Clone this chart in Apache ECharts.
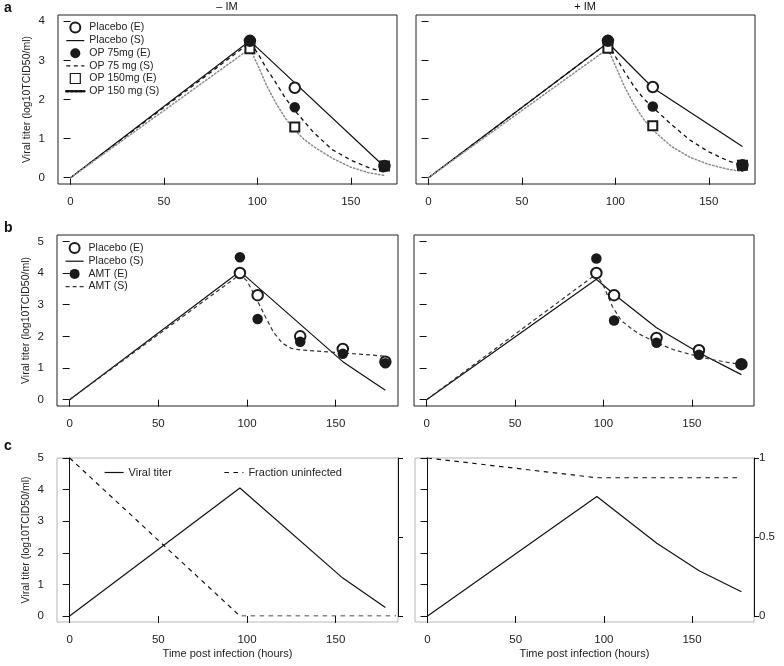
<!DOCTYPE html>
<html><head><meta charset="utf-8">
<script src="https://cdn.jsdelivr.net/npm/echarts@6/dist/echarts.min.js"></script>
<style>html,body{margin:0;padding:0;background:#fff}#c{width:784px;height:666px}</style>
</head><body><div id="c"></div>
<script>
// ---------------- data ----------------
const xTicks = [0, 50, 100, 150];
const yTicksA = [0, 1, 2, 3, 4];
const yTicksB = [0, 1, 2, 3, 4, 5];
const fracTicks = [0, 0.5, 1];

// panel a: experimental points
const aTimesE = [96, 120, 168];
const aMinusPlaceboE = [3.5, 2.3, 0.3];
const aMinusOP75E = [3.5, 1.8, 0.3];
const aMinusOP150E = [3.3, 1.3, 0.3];
const aPlusPlaceboE = [3.5, 2.32, 0.32];
const aPlusOP75E = [3.52, 1.82, 0.32];
const aPlusOP150E = [3.31, 1.33, 0.32];
// panel a: simulations (- IM)
const aMinusPlaceboS_t = [0, 96, 168];
const aMinusPlaceboS = [0, 3.5, 0.28];
const aMinusOP75S_t = [0, 96, 100, 105, 110, 115, 120, 130, 140, 150, 160, 168];
const aMinusOP75S = [0, 3.45, 3.2, 2.78, 2.42, 2.03, 1.72, 1.16, 0.72, 0.45, 0.25, 0.14];
const aMinusOP150S_t = [0, 96, 100, 105, 110, 115, 120, 125, 130, 140, 150, 160, 168];
const aMinusOP150S = [0, 3.3, 2.9, 2.35, 1.9, 1.52, 1.22, 0.98, 0.8, 0.5, 0.27, 0.12, 0.06];
// panel a: simulations (+ IM)
const aPlusPlaceboS_t = [0, 96, 120, 168];
const aPlusPlaceboS = [0, 3.45, 2.3, 0.8];
const aPlusOP75S_t = [0, 96, 100, 105, 110, 115, 120, 130, 140, 150, 160, 168];
const aPlusOP75S = [0, 3.45, 3.1, 2.7, 2.33, 2.03, 1.8, 1.36, 0.96, 0.66, 0.44, 0.3];
const aPlusOP150S_t = [0, 96, 100, 105, 110, 115, 120, 130, 140, 150, 160, 168];
const aPlusOP150S = [0, 3.3, 2.86, 2.32, 1.87, 1.5, 1.22, 0.8, 0.52, 0.34, 0.22, 0.16];

// panel b: experimental points
const bTimesE = [96, 106, 130, 154, 178];
const bMinusPlaceboE = [4.0, 3.3, 2.0, 1.6, 1.2];
const bMinusAMTE = [4.5, 2.55, 1.83, 1.45, 1.15];
const bPlusPlaceboE = [4.0, 3.3, 1.95, 1.56, 1.12];
const bPlusAMTE = [4.46, 2.5, 1.8, 1.42, 1.12];
// panel b: simulations
const bMinusPlaceboS_t = [0, 96, 154, 178];
const bMinusPlaceboS = [0, 4.05, 1.2, 0.3];
const bMinusAMTS_t = [0, 96, 100, 105, 110, 115, 120, 125, 130, 140, 150, 160, 170, 178];
const bMinusAMTS = [0, 3.95, 3.75, 3.22, 2.66, 2.12, 1.78, 1.62, 1.57, 1.53, 1.49, 1.45, 1.41, 1.37];
const bPlusPlaceboS_t = [0, 96, 106, 130, 154, 178];
const bPlusPlaceboS = [0, 3.8, 3.33, 2.27, 1.48, 0.79];
const bPlusAMTS_t = [0, 96, 100, 105, 110, 115, 120, 130, 140, 150, 160, 170, 178];
const bPlusAMTS = [0, 3.97, 3.6, 2.95, 2.5, 2.28, 2.08, 1.8, 1.57, 1.42, 1.28, 1.18, 1.11];

// panel c
const cMinusTiter_t = [0, 96, 154, 178];
const cMinusTiter = [0, 4.05, 1.2, 0.27];
const cMinusFrac_t = [0, 96, 184];
const cMinusFrac = [1, 0, 0];
const cPlusTiter_t = [0, 96, 130, 154, 178];
const cPlusTiter = [0, 3.78, 2.3, 1.43, 0.77];
const cPlusFrac_t = [0, 96, 176];
const cPlusFrac = [1, 0.875, 0.875];

// ---------------- chart ----------------
const pts = (t, v) => t.map((x, i) => [x, v[i]]);
const FONT = 'Liberation Sans, Arial, Helvetica, sans-serif';
const TXT = '#222';
const INK = '#111';
const YNAME = 'Viral titer (log10TCID50/ml)';

const grids = [
  {left: 58, top: 15, width: 339, height: 169},   // 0 a-left
  {left: 416, top: 15, width: 339, height: 169},  // 1 a-right
  {left: 57, top: 235, width: 341, height: 171},  // 2 b-left
  {left: 414, top: 235, width: 340, height: 171}, // 3 b-right
  {left: 57, top: 458, width: 341, height: 164, gray: true},  // 4 c-left frame
  {left: 57, top: 458, width: 341, height: 158, data: true},  // 5 c-left data
  {left: 415, top: 458, width: 339, height: 164, gray: true}, // 6 c-right frame
  {left: 415, top: 458, width: 339, height: 158, data: true}  // 7 c-right data
].map(g => ({
  left: g.left, top: g.top, width: g.width, height: g.height,
  show: !g.data, borderWidth: 1, borderColor: g.gray ? '#b5b5b5' : '#222',
  backgroundColor: 'transparent', containLabel: false
}));

const xRangeA = [-6.72, 174.72];
const xRangeB = [-7.12, 185.12];
function xAx(gi, range, opts) {
  opts = opts || {};
  return {
    type: 'value', gridIndex: gi, min: range[0], max: range[1],
    show: opts.hidden ? false : true,
    axisLine: {show: false},
    axisTick: {show: true, customValues: xTicks, length: 7, lineStyle: {color: INK, width: 1}},
    axisLabel: {show: true, customValues: xTicks, margin: 12, fontSize: 11.5, color: TXT, fontFamily: FONT},
    splitLine: {show: false},
    name: opts.name || '', nameLocation: 'middle', nameGap: 26,
    nameTextStyle: {fontSize: 11, color: TXT, fontFamily: FONT}
  };
}
function yAx(gi, range, ticks, opts) {
  opts = opts || {};
  return {
    type: 'value', gridIndex: gi, min: range[0], max: range[1],
    position: opts.right ? 'right' : 'left',
    axisLine: {show: !!opts.line, lineStyle: {color: INK, width: 1}},
    axisTick: {show: !opts.noTicks, customValues: ticks, length: opts.right ? 5 : 7, lineStyle: {color: INK, width: 1}},
    axisLabel: {show: !!opts.labels, customValues: ticks, margin: opts.right ? 5 : 13, fontSize: 11.5, color: TXT, fontFamily: FONT},
    splitLine: {show: false},
    name: opts.name || '', nameLocation: 'middle', nameGap: 25,
    nameTextStyle: {fontSize: 10.5, color: TXT, fontFamily: FONT}
  };
}

const xAxes = [
  xAx(0, xRangeA), xAx(1, xRangeA),
  xAx(2, xRangeB), xAx(3, xRangeB),
  xAx(4, xRangeB, {name: 'Time post infection (hours)'}), xAx(5, xRangeB, {hidden: true}),
  xAx(6, xRangeB, {name: 'Time post infection (hours)'}), xAx(7, xRangeB, {hidden: true})
];
const yAxes = [
  yAx(0, [-0.16, 4.16], yTicksA, {labels: true, name: YNAME}),      // 0
  yAx(1, [-0.16, 4.16], yTicksA, {}),                                // 1
  yAx(2, [-0.2, 5.2], yTicksB, {labels: true, name: YNAME}),         // 2
  yAx(3, [-0.2, 5.2], yTicksB, {}),                                  // 3
  yAx(4, [-0.19, 5], yTicksB, {noTicks: true, name: YNAME}),         // 4 c-left frame
  yAx(5, [0, 5], yTicksB, {labels: true, line: true}),               // 5 c-left titer
  yAx(5, [0, 1], fracTicks, {right: true, line: true}),              // 6 c-left fraction
  yAx(7, [0, 5], yTicksB, {line: true}),                             // 7 c-right titer
  yAx(7, [0, 1], fracTicks, {right: true, line: true, labels: true}),// 8 c-right fraction
  yAx(6, [-0.19, 5], yTicksB, {noTicks: true})                       // 9 c-right frame
];

const SOLID = {color: INK, width: 1.2, type: 'solid'};
const DASH = {color: INK, width: 1.3, type: [4, 3.5]};
const DOT = {color: '#8c8c8c', width: 1.5, type: [1.5, 2.2], cap: 'round'};
const DASHB = {color: '#333', width: 1.2, type: [4, 3]};
const DASHC = {color: INK, width: 1.2, type: [4.5, 4.5]};

function line(name, xi, yi, data, ls) {
  return {type: 'line', name, xAxisIndex: xi, yAxisIndex: yi, data, symbol: 'none',
    lineStyle: ls, itemStyle: {color: ls.color}, z: 2, silent: true, animation: false};
}
function scat(name, xi, yi, data, kind) {
  const filled = kind === 'filled';
  const sym = kind === 'open' ? 'emptyCircle' : kind === 'square' ? 'emptyRect' : 'circle';
  return {type: 'scatter', name, xAxisIndex: xi, yAxisIndex: yi, data,
    symbol: sym, symbolSize: kind === 'square' ? 9 : 10.5,
    itemStyle: {color: '#1a1a1a', borderColor: '#1a1a1a', borderWidth: filled ? 0 : 1.2, opacity: 1},
    z: filled ? 5 : 4, silent: true, animation: false};
}

const series = [
  // a - IM
  line('Placebo (S)', 0, 0, pts(aMinusPlaceboS_t, aMinusPlaceboS), SOLID),
  line('OP 75 mg (S)', 0, 0, pts(aMinusOP75S_t, aMinusOP75S), DASH),
  line('OP 150 mg (S)', 0, 0, pts(aMinusOP150S_t, aMinusOP150S), DOT),
  scat('OP 150mg (E)', 0, 0, pts(aTimesE, aMinusOP150E), 'square'),
  scat('Placebo (E)', 0, 0, pts(aTimesE, aMinusPlaceboE), 'open'),
  scat('OP 75mg (E)', 0, 0, pts(aTimesE, aMinusOP75E), 'filled'),
  // a + IM
  line('Placebo (S)', 1, 1, pts(aPlusPlaceboS_t, aPlusPlaceboS), SOLID),
  line('OP 75 mg (S)', 1, 1, pts(aPlusOP75S_t, aPlusOP75S), DASH),
  line('OP 150 mg (S)', 1, 1, pts(aPlusOP150S_t, aPlusOP150S), DOT),
  scat('OP 150mg (E)', 1, 1, pts(aTimesE, aPlusOP150E), 'square'),
  scat('Placebo (E)', 1, 1, pts(aTimesE, aPlusPlaceboE), 'open'),
  scat('OP 75mg (E)', 1, 1, pts(aTimesE, aPlusOP75E), 'filled'),
  // b - IM
  line('Placebo (S)', 2, 2, pts(bMinusPlaceboS_t, bMinusPlaceboS), SOLID),
  line('AMT (S)', 2, 2, pts(bMinusAMTS_t, bMinusAMTS), DASHB),
  scat('Placebo (E)', 2, 2, pts(bTimesE, bMinusPlaceboE), 'open'),
  scat('AMT (E)', 2, 2, pts(bTimesE, bMinusAMTE), 'filled'),
  // b + IM
  line('Placebo (S)', 3, 3, pts(bPlusPlaceboS_t, bPlusPlaceboS), SOLID),
  line('AMT (S)', 3, 3, pts(bPlusAMTS_t, bPlusAMTS), DASHB),
  scat('Placebo (E)', 3, 3, pts(bTimesE, bPlusPlaceboE), 'open'),
  scat('AMT (E)', 3, 3, pts(bTimesE, bPlusAMTE), 'filled'),
  // c
  line('Viral titer', 5, 5, pts(cMinusTiter_t, cMinusTiter), SOLID),
  line('Fraction uninfected', 5, 6, pts(cMinusFrac_t, cMinusFrac), DASHC),
  line('Viral titer', 7, 7, pts(cPlusTiter_t, cPlusTiter), SOLID),
  line('Fraction uninfected', 7, 8, pts(cPlusFrac_t, cPlusFrac), DASHC)
];

const NOSYM = {color: 'rgba(0,0,0,0)', borderColor: 'rgba(0,0,0,0)', borderWidth: 0};
const lineItem = (name, ls) => ({name, itemStyle: NOSYM, lineStyle: ls});
const legTxt = {fontSize: 10.5, color: TXT, fontFamily: FONT, lineHeight: 11};
const legends = [
  {
    orient: 'vertical', left: 65, top: 21.5, padding: 0, itemGap: 1.6,
    itemWidth: 18, itemHeight: 10, textStyle: legTxt, selectedMode: false,
    data: [
      'Placebo (E)',
      lineItem('Placebo (S)', SOLID),
      'OP 75mg (E)',
      lineItem('OP 75 mg (S)', DASH),
      {name: 'OP 150mg (E)', icon: 'path://M0,0L10,0L10,10L0,10Z',
        itemStyle: {color: '#fff', borderColor: '#1a1a1a', borderWidth: 1.2}},
      lineItem('OP 150 mg (S)', {color: INK, width: 2.6, type: [2.4, 2], cap: 'round'})
    ]
  },
  {
    orient: 'vertical', left: 65, top: 242, padding: 0, itemGap: 1.7,
    itemWidth: 18, itemHeight: 10, textStyle: legTxt, selectedMode: false,
    data: ['Placebo (E)', lineItem('Placebo (S)', SOLID), 'AMT (E)', lineItem('AMT (S)', DASHB)]
  },
  {
    orient: 'horizontal', left: 104, top: 467, padding: 0, itemGap: 52,
    itemWidth: 19, itemHeight: 10, selectedMode: false,
    textStyle: {fontSize: 11, color: TXT, fontFamily: FONT},
    data: [lineItem('Viral titer', SOLID), lineItem('Fraction uninfected', DASHC)]
  }
];

const txt = (x, y, s, size, bold) => ({type: 'text', x, y, silent: true,
  style: {text: s, fontSize: size, fontWeight: bold ? 'bold' : 'normal', fill: '#111',
    fontFamily: FONT, textAlign: bold ? 'left' : 'center', textVerticalAlign: 'middle'}});

const option = {
  backgroundColor: '#fff',
  animation: false,
  textStyle: {fontFamily: FONT},
  grid: grids,
  xAxis: xAxes,
  yAxis: yAxes,
  legend: legends,
  series,
  graphic: [
    txt(4, 8, 'a', 14, true), txt(4, 228, 'b', 14, true), txt(4, 446, 'c', 14, true),
    txt(227, 7, '– IM', 11, false), txt(585, 7, '+ IM', 11, false)
  ]
};
const chart = echarts.init(document.getElementById('c'), null, {renderer: 'canvas'});
chart.setOption(option);
</script>
</body></html>
